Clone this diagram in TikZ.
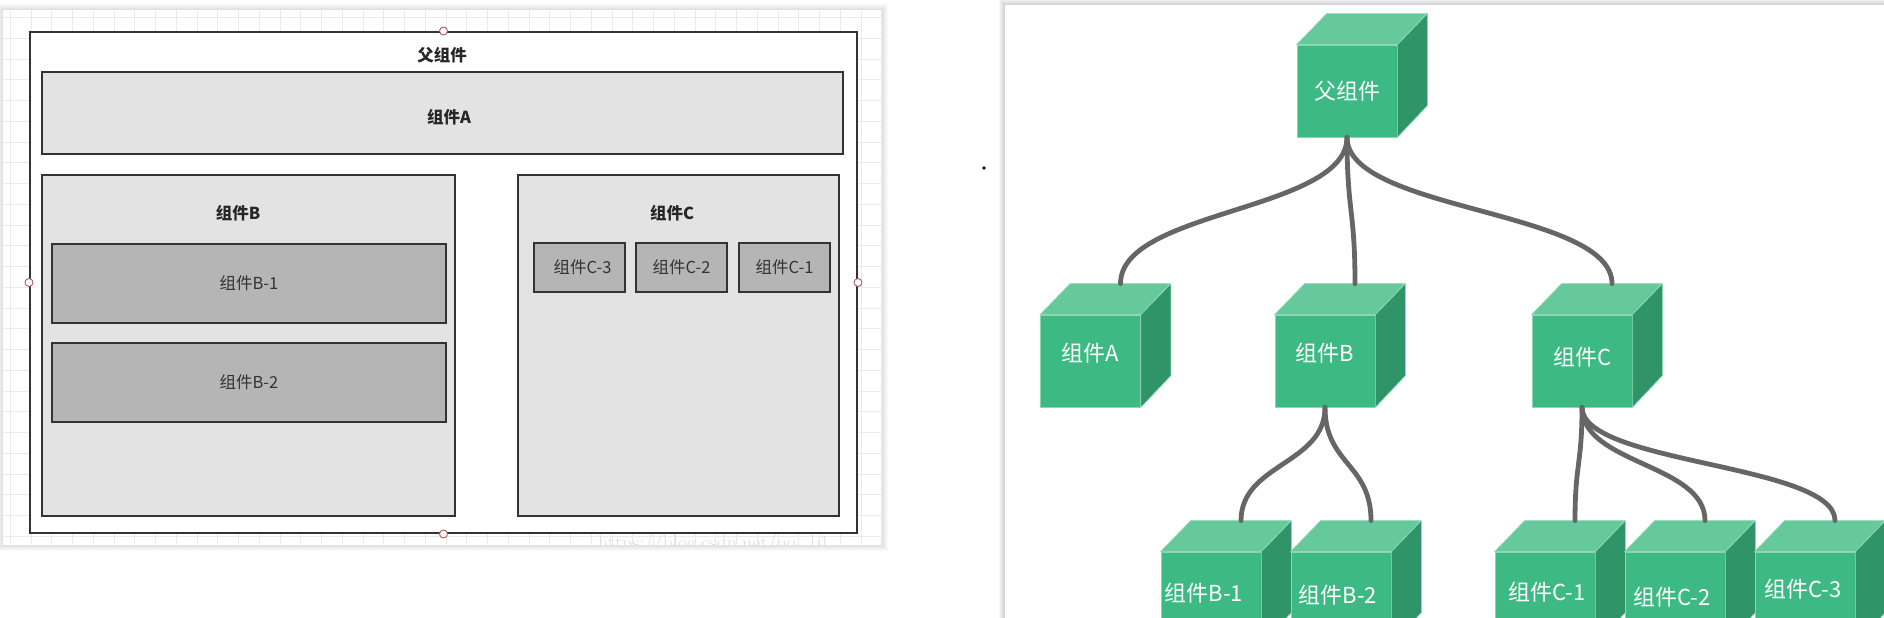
\documentclass[tikz,border=0pt]{standalone}
\usepackage{fontspec}
\newfontfamily\cjk{Noto Sans CJK SC}
\usetikzlibrary{calc}
\definecolor{cubefront}{HTML}{3DBA84}
\definecolor{cubetop}{HTML}{66C99C}
\definecolor{cubeside}{HTML}{2F9467}
\definecolor{cubeedge}{HTML}{8AD6B3}
\definecolor{connc}{HTML}{666666}
\definecolor{boxfill}{HTML}{E3E3E3}
\definecolor{innerfill}{HTML}{B5B5B5}
\definecolor{boxline}{HTML}{333333}
\definecolor{gridline}{HTML}{EAEAEA}
\definecolor{handlec}{HTML}{B05C5C}
\newcommand\cubefaces[1]{%
  \filldraw[fill=cubetop, draw=cubeedge, line width=0.7pt] (#1.north west) -- ++(30,-31) -- ++(100,0) -- (#1.north east) -- cycle;
  \filldraw[fill=cubeside, draw=cubeedge, line width=0.7pt] (#1.north east) -- ++(30,-31) -- ++(0,92) -- (#1.south east) -- cycle;
  \coordinate (#1-top) at ($(#1.north)+(30,-31)$);}
\begin{document}
\begin{tikzpicture}[x=1pt,y=-1pt,
  panelbox/.style={rectangle, draw=boxline, line width=2pt, fill=boxfill, inner sep=0pt},
  innerbox/.style={rectangle, draw=boxline, line width=2pt, fill=innerfill, inner sep=0pt,
     text=black!80, font=\cjk\fontsize{16.5}{16.5}\selectfont},
  boldlabel/.style={inner sep=0pt, text=black!85, font=\cjk\bfseries\fontsize{16.5}{16.5}\selectfont},
  handle/.style={circle, draw=handlec, fill=white, line width=0.9pt, minimum size=8pt, inner sep=0pt},
  cubebox/.style={rectangle, minimum width=100pt, minimum height=92pt, inner sep=0pt,
     fill=cubefront, draw=cubeedge, line width=0.7pt},
  cubelabel/.style={inner sep=0pt, text=white, font=\cjk\fontsize{22}{22}\selectfont},
  connector/.style={draw=connc, line width=4.8pt, line cap=round}]
\useasboundingbox (0,0) rectangle (1884,618);
\clip (0,0) rectangle (1884,618);
% ---------- left panel: shadow, grid ----------
\foreach \i in {1,...,6}{
  \fill[black, opacity=0.018] (3-\i,10-\i) rectangle (882+\i,545+\i);
}
\fill[white] (3,10) rectangle (882,545);
\begin{scope}
  \clip (3,10) rectangle (882,545);
  \foreach \k in {0,...,42}{
    \draw[gridline, line width=0.9pt] (10.3+20.75*\k,10) -- ++(0,535);
  }
  \foreach \k in {0,...,25}{
    \draw[gridline, line width=0.9pt] (3,17.5+20.75*\k) -- ++(879,0);
  }
  \node[anchor=north west, inner sep=0pt, text=black!13, font=\fontsize{20}{20}\selectfont]
    (wm) at (598,534) {https://blog.csdn.net/qq\_b1};
\end{scope}
% ---------- left panel: boxes ----------
\node[rectangle, draw=boxline, line width=2pt, fill=white, inner sep=0pt,
  minimum width=827pt, minimum height=501pt] (outer) at (443.5,282.5) {};
\node[boldlabel] (lP) at (442,55) {父组件};
\node[panelbox, minimum width=801pt, minimum height=82pt] (boxA) at (442.5,113) {};
\node[boldlabel] (lA) at (449,117) {组件A};
\node[panelbox, minimum width=413pt, minimum height=341pt] (boxB) at (248.5,345.5) {};
\node[boldlabel] (lB) at (238,213) {组件B};
\node[panelbox, minimum width=321pt, minimum height=341pt] (boxC) at (678.5,345.5) {};
\node[boldlabel] (lC) at (672,213) {组件C};
\node[innerbox, minimum width=394pt, minimum height=79pt] (boxB1) at (249,283.5) {组件B-1};
\node[innerbox, minimum width=394pt, minimum height=79pt] (boxB2) at (249,382.5) {组件B-2};
\node[innerbox, minimum width=91pt, minimum height=49pt] (boxC3) at (579.5,267.5) {\hspace{6pt}组件C-3};
\node[innerbox, minimum width=91pt, minimum height=49pt] (boxC2) at (681.5,267.5) {组件C-2};
\node[innerbox, minimum width=91pt, minimum height=49pt] (boxC1) at (784.5,267.5) {组件C-1};
\node[handle] (hN) at (outer.north) {};
\node[handle] (hS) at (outer.south) {};
\node[handle] (hW) at (outer.west) {};
\node[handle] (hE) at (outer.east) {};
% stray dot
\fill[black] (984,168) circle (1.8);
% ---------- right panel ----------
\foreach \i in {1,...,6}{
  \fill[black, opacity=0.03] (1005-\i,5-\i) rectangle (1884,618);
}
\fill[white] (1005,5) rectangle (1884,618);
% cubes (front faces)
\node[cubebox] (P) at (1347,91) {};
\node[cubebox] (A) at (1090.5,361) {};
\node[cubebox] (B) at (1325,361) {};
\node[cubebox] (C) at (1582,361) {};
\cubefaces{P}\cubefaces{A}\cubefaces{B}\cubefaces{C}
% connectors
\draw[connector] (P.south) .. controls +(0,74) and +(0,-74) .. (A-top);
\draw[connector] (P.south) .. controls +(0,74) and +(0,-74) .. (B-top);
\draw[connector] (P.south) .. controls +(0,74) and +(0,-74) .. (C-top);
% bottom row
\node[cubebox] (B1) at (1211,598) {};
\cubefaces{B1}
\node[cubebox] (B2) at (1341,598) {};
\cubefaces{B2}
\node[cubebox] (C1) at (1545,598) {};
\cubefaces{C1}
\node[cubebox] (C2) at (1675,598) {};
\cubefaces{C2}
\node[cubebox] (C3) at (1805,598) {};
\cubefaces{C3}
\draw[connector] (B.south) .. controls +(0,57) and +(0,-57) .. (B1-top);
\draw[connector] (B.south) .. controls +(0,57) and +(0,-57) .. (B2-top);
\draw[connector] (C.south) .. controls +(0,57) and +(0,-57) .. (C1-top);
\draw[connector] (C.south) .. controls +(0,57) and +(0,-57) .. (C2-top);
\draw[connector] (C.south) .. controls +(0,57) and +(0,-57) .. (C3-top);
% cube labels
\node[cubelabel] (tP) at (1347,91) {父组件};
\node[cubelabel] (tA) at (1090,353) {组件A};
\node[cubelabel] (tB) at (1325,353) {组件B};
\node[cubelabel] (tC) at (1582,357) {组件C};
\node[cubelabel] (tB1) at (1204,593) {组件B-1};
\node[cubelabel] (tB2) at (1338,595) {组件B-2};
\node[cubelabel] (tC1) at (1547,592) {组件C-1};
\node[cubelabel] (tC2) at (1672,597) {组件C-2};
\node[cubelabel] (tC3) at (1803,589) {组件C-3};
\end{tikzpicture}
\end{document}
